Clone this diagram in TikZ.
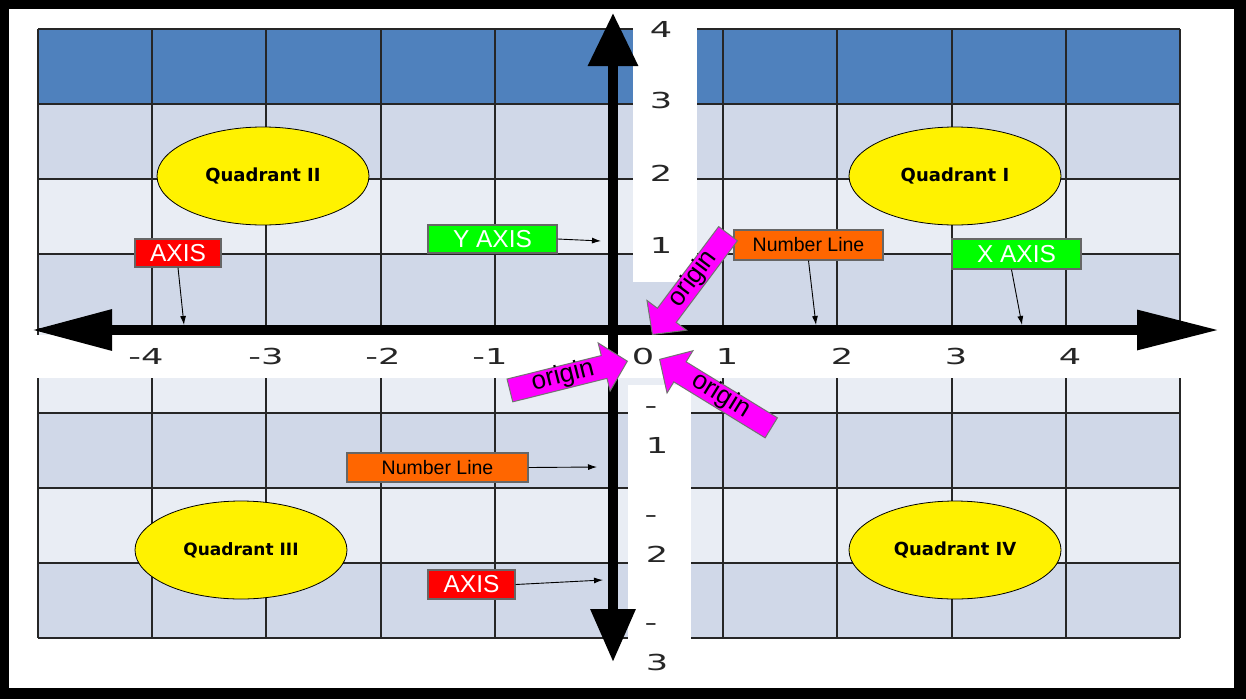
\documentclass[tikz,border=0pt]{standalone}
\usepackage{fontspec}
\setmainfont{Liberation Sans}
\newfontfamily\numfont{DejaVu Sans}
\usepackage{graphicx}
\usetikzlibrary{shapes.geometric,shapes.arrows,arrows.meta}
\definecolor{hdrblue}{HTML}{4F81BD}
\definecolor{rowdark}{HTML}{D0D8E8}
\definecolor{rowlight}{HTML}{E9EDF4}
\definecolor{lblorange}{HTML}{FF6600}
\definecolor{originpink}{HTML}{FF00FF}
\newcommand{\wnum}[1]{\scalebox{1.6}[1]{#1}}

\begin{document}
\begin{tikzpicture}[x=1pt,y=-1pt,>=latex,
  quad/.style={ellipse, draw, line width=0.8pt, fill=yellow, minimum width=212pt, minimum height=98pt, inner sep=0pt, font=\numfont\bfseries\fontsize{18}{20}\selectfont},
  tag/.style={draw=black!60, line width=1.2pt, inner sep=0pt, minimum height=28pt},
  pointer/.style={-{Latex[length=9pt,width=6pt]}, line width=0.9pt},
  num/.style={font=\numfont\fontsize{22}{24}\selectfont, text=black!85, inner sep=0pt},
  origin/.style={single arrow, fill=originpink, draw=black!55, line width=1pt, inner sep=0pt, text height=17pt, text depth=5.5pt, single arrow head extend=13pt, single arrow tip angle=92, anchor=tip, font=\fontsize{26}{27}\selectfont},
  axis/.style={line width=9.5pt}]

  % frame
  \fill (0,0) rectangle (1246,699);
  \fill[white] (9,9) rectangle (1234,688);

  % table rows
  \foreach \ya/\yb/\rc in {29/104/hdrblue,104/179/rowdark,179/254/rowlight,254/329/rowdark,329/413/rowlight,413/488/rowdark,488/563/rowlight,563/638/rowdark}
    \fill[\rc] (38,\ya) rectangle (1180,\yb);
  \foreach \gx in {0,...,10}
    \draw[line width=2pt, black!85] ({38+114.2*\gx},29) -- ({38+114.2*\gx},638);
  \foreach \gy in {29,104,179,254,329,413,488,563,638}
    \draw[line width=2pt, black!85] (38,\gy) -- (1180,\gy);

  % white strips for the numbers
  \fill[white] (9,335) rectangle (1234,378);
  \fill[white] (633,9) rectangle (697,282);
  \fill[white] (628,385) rectangle (691,688);

  % numbers on the x axis
  \foreach \lab/\px/\nm in {-4/146/xm4,-3/266/xm3,-2/383/xm2,-1/490/xm1,0/643/x0,1/727/x1,2/842/x2,3/956/x3,4/1070/x4}
    \node[num] (\nm) at (\px,356) {\wnum{\lab}};
  % numbers on the y axis
  \foreach \lab/\py/\nm in {4/29/y4,3/100/y3,2/173/y2,1/245/y1}
    \node[num] (\nm) at (661,\py) {\wnum{\lab}};
  \foreach \lab/\py/\nm in {1/445/ym1,2/554/ym2,3/662/ym3}{
    \node[num] (\nm) at (657,\py) {\wnum{\lab}};
    \node[num] (\nm d) at (651,\py-35) {\wnum{-}};
  }

  % quadrants
  \node[quad] (q2) at (263,176) {Quadrant II};
  \node[quad] (q1) at (955,176) {Quadrant I};
  \node[quad, font=\numfont\bfseries\fontsize{17}{19}\selectfont] (q3) at (241,550) {Quadrant III};
  \node[quad] (q4) at (955,550) {Quadrant IV};

  % labels
  \node[tag, fill=red, text=white, minimum width=86pt, font=\fontsize{24.5}{26}\selectfont] (axl) at (178,253) {AXIS};
  \node[tag, fill=green, text=white, minimum width=129pt, font=\fontsize{24.5}{26}\selectfont] (yax) at (492.5,239) {Y AXIS};
  \node[tag, fill=lblorange, minimum width=149pt, minimum height=30pt, font=\fontsize{19.5}{21}\selectfont] (nlu) at (808.5,245) {Number Line};
  \node[tag, fill=green, text=white, minimum width=129pt, minimum height=30pt, font=\fontsize{24.5}{26}\selectfont] (xax) at (1016.5,254) {X AXIS};
  \node[tag, fill=lblorange, minimum width=181pt, minimum height=29pt, font=\fontsize{19.5}{21}\selectfont] (nll) at (437.5,467.5) {Number Line};
  \node[tag, fill=red, text=white, minimum width=87pt, minimum height=29pt, font=\fontsize{24.5}{26}\selectfont] (axb) at (471.5,584.5) {AXIS};

  \coordinate (axlend) at (184,325);
  \coordinate (yaxend) at (601,241);
  \coordinate (nluend) at (816,325);
  \coordinate (xaxend) at (1022,325);
  \coordinate (nllend) at (597,467);
  \coordinate (axbend) at (603,580);
  \draw[pointer] (axl.south) -- (axlend);
  \draw[pointer] (yax.east) -- (yaxend);
  \draw[pointer] (nlu.south) -- (nluend);
  \draw[pointer] ([xshift=-5pt]xax.south) -- (xaxend);
  \draw[pointer] (nll.east) -- (nllend);
  \draw[pointer] (axb.east) -- (axbend);

  % axes
  \coordinate (xw) at (32,330);
  \coordinate (xe) at (1219,330);
  \coordinate (yn) at (613,13);
  \coordinate (ys) at (613,662);
  \draw[axis, {Triangle[length=80pt,width=39pt]}-{Triangle[length=82pt,width=38pt]}] (xw) -- (xe);
  \draw[axis, {Triangle[length=53pt,width=48pt]}-{Triangle[length=53pt,width=43pt]}] (yn) -- (ys);

  % origin arrows
  \node[origin, rotate=53.1, shape border rotate=180, minimum height=126pt] (o1) at (652,335) {origin};
  \node[origin, rotate=14, minimum height=121pt] (o2) at (628,361) {origin};
  \node[origin, rotate=-31.5, shape border rotate=180, minimum height=131pt] (o3) at (659,359) {origin};

\end{tikzpicture}
\end{document}
